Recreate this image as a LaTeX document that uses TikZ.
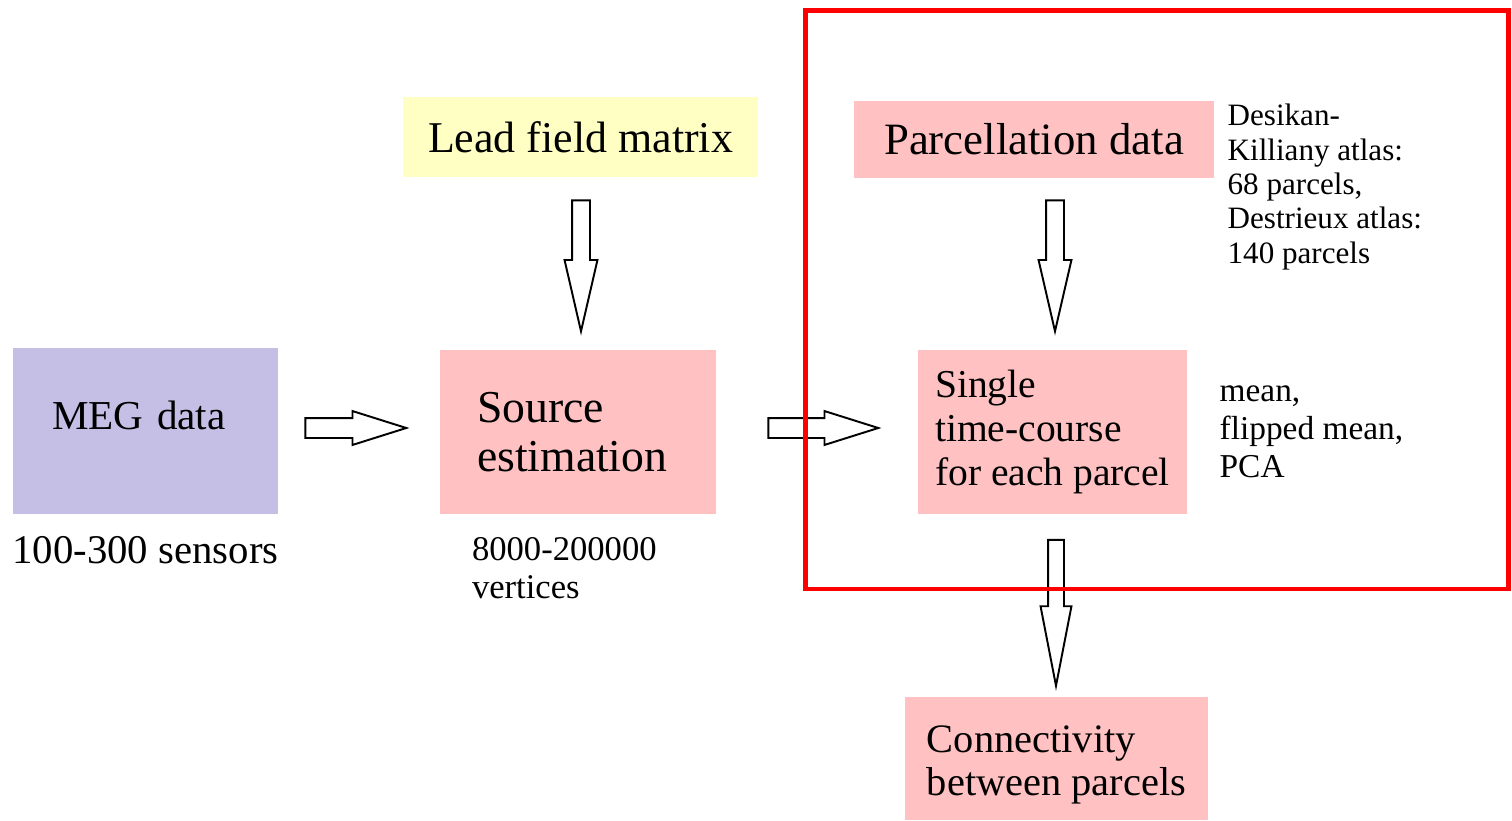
\documentclass[tikz,border=0pt]{standalone}
\usepackage{fontspec}
\setmainfont{Liberation Serif}
\usetikzlibrary{positioning, calc, shapes.arrows}

\definecolor{megblue}{RGB}{197,190,229}
\definecolor{boxpink}{RGB}{255,193,193}
\definecolor{leadyellow}{RGB}{255,255,196}

\begin{document}
\begin{tikzpicture}[x=0.02cm, y=-0.02cm,
    box/.style={inner sep=0pt, align=left},
    big/.style={font=\fontsize{25}{28}\selectfont},
    note/.style={inner sep=0pt, align=left, font=\fontsize{19}{21.6}\selectfont},
    harrow/.style={single arrow, draw, line width=1.1pt, fill=white, inner sep=0.18cm,
        single arrow head extend=0.14cm, single arrow tip angle=35,
        single arrow head indent=0pt, minimum height=2.1cm, anchor=tail},
    varrow/.style={harrow, shape border rotate=270, inner sep=0.16cm,
        single arrow head extend=0.15cm, single arrow tip angle=26, minimum height=2.62cm}]
    \useasboundingbox (0,0) rectangle (1512,821);

    % boxes
    \node[box, fill=megblue, minimum width=5.3cm, minimum height=3.32cm, text width=3.74cm,
        text depth=18pt, font=\fontsize{23.4}{26}\selectfont] (meg) at (145.5,431) {MEG data};
    \node[box, fill=leadyellow, minimum width=7.1cm, minimum height=1.6cm, big] (lead) at (580.5,137) {Lead field matrix};
    \node[box, fill=boxpink, minimum width=5.52cm, minimum height=3.28cm, text width=4.04cm,
        font=\fontsize{26}{28}\selectfont] (src) at (578,432) {Source\\estimation};
    \node[box, fill=boxpink, minimum width=7.2cm, minimum height=1.54cm,
        font=\fontsize{25.5}{28}\selectfont] (parcel) at (1034,139.5) {Parcellation data};
    \node[box, fill=boxpink, minimum width=5.38cm, minimum height=3.3cm,
        font=\fontsize{22.5}{25}\selectfont] (stc) at (1052.5,432) {Single\\time-course\\for each parcel};
    \node[box, fill=boxpink, minimum width=6.06cm, minimum height=2.46cm, text height=47.5pt,
        font=\fontsize{23}{25}\selectfont] (conn) at (1056.5,758.5) {Connectivity\\between parcels};

    % notes
    \node[inner sep=0pt, font=\fontsize{23.2}{26}\selectfont, below=0.44cm of meg] (sensors) {100-300 sensors};
    \node[note, font=\fontsize{19.7}{21.6}\selectfont, anchor=north west] (vert)
        at ($(src.south west)+(32,23)$) {8000-200000\\vertices};
    \node[note, font=\fontsize{17.7}{19.6}\selectfont, anchor=north west] (atlas)
        at ($(parcel.north east)+(13,3)$) {Desikan-\\Killiany atlas:\\68 parcels,\\Destrieux atlas:\\140 parcels};
    \node[note, right=0.64cm of stc] (method) {mean,\\flipped mean,\\PCA};

    % block arrows
    \node[harrow, minimum height=2.02cm] (a1) at ($(meg.east)+(26,-3)$) {};
    \node[harrow, minimum height=2.2cm] (a2) at ($(src.east)+(51,-4)$) {};
    \node[varrow] (a3) at ($(lead.south)+(0.5,22)$) {};
    \node[varrow] (a4) at ($(stc.north |- parcel.south)+(2.5,21)$) {};
    \node[varrow, minimum height=2.92cm, inner sep=0.14cm, single arrow tip angle=22] (a5)
        at ($(stc.south)+(3.5,24)$) {};

    \draw[red, line width=2.8pt] (805.5,10.5) rectangle (1508.5,589);
\end{tikzpicture}
\end{document}
